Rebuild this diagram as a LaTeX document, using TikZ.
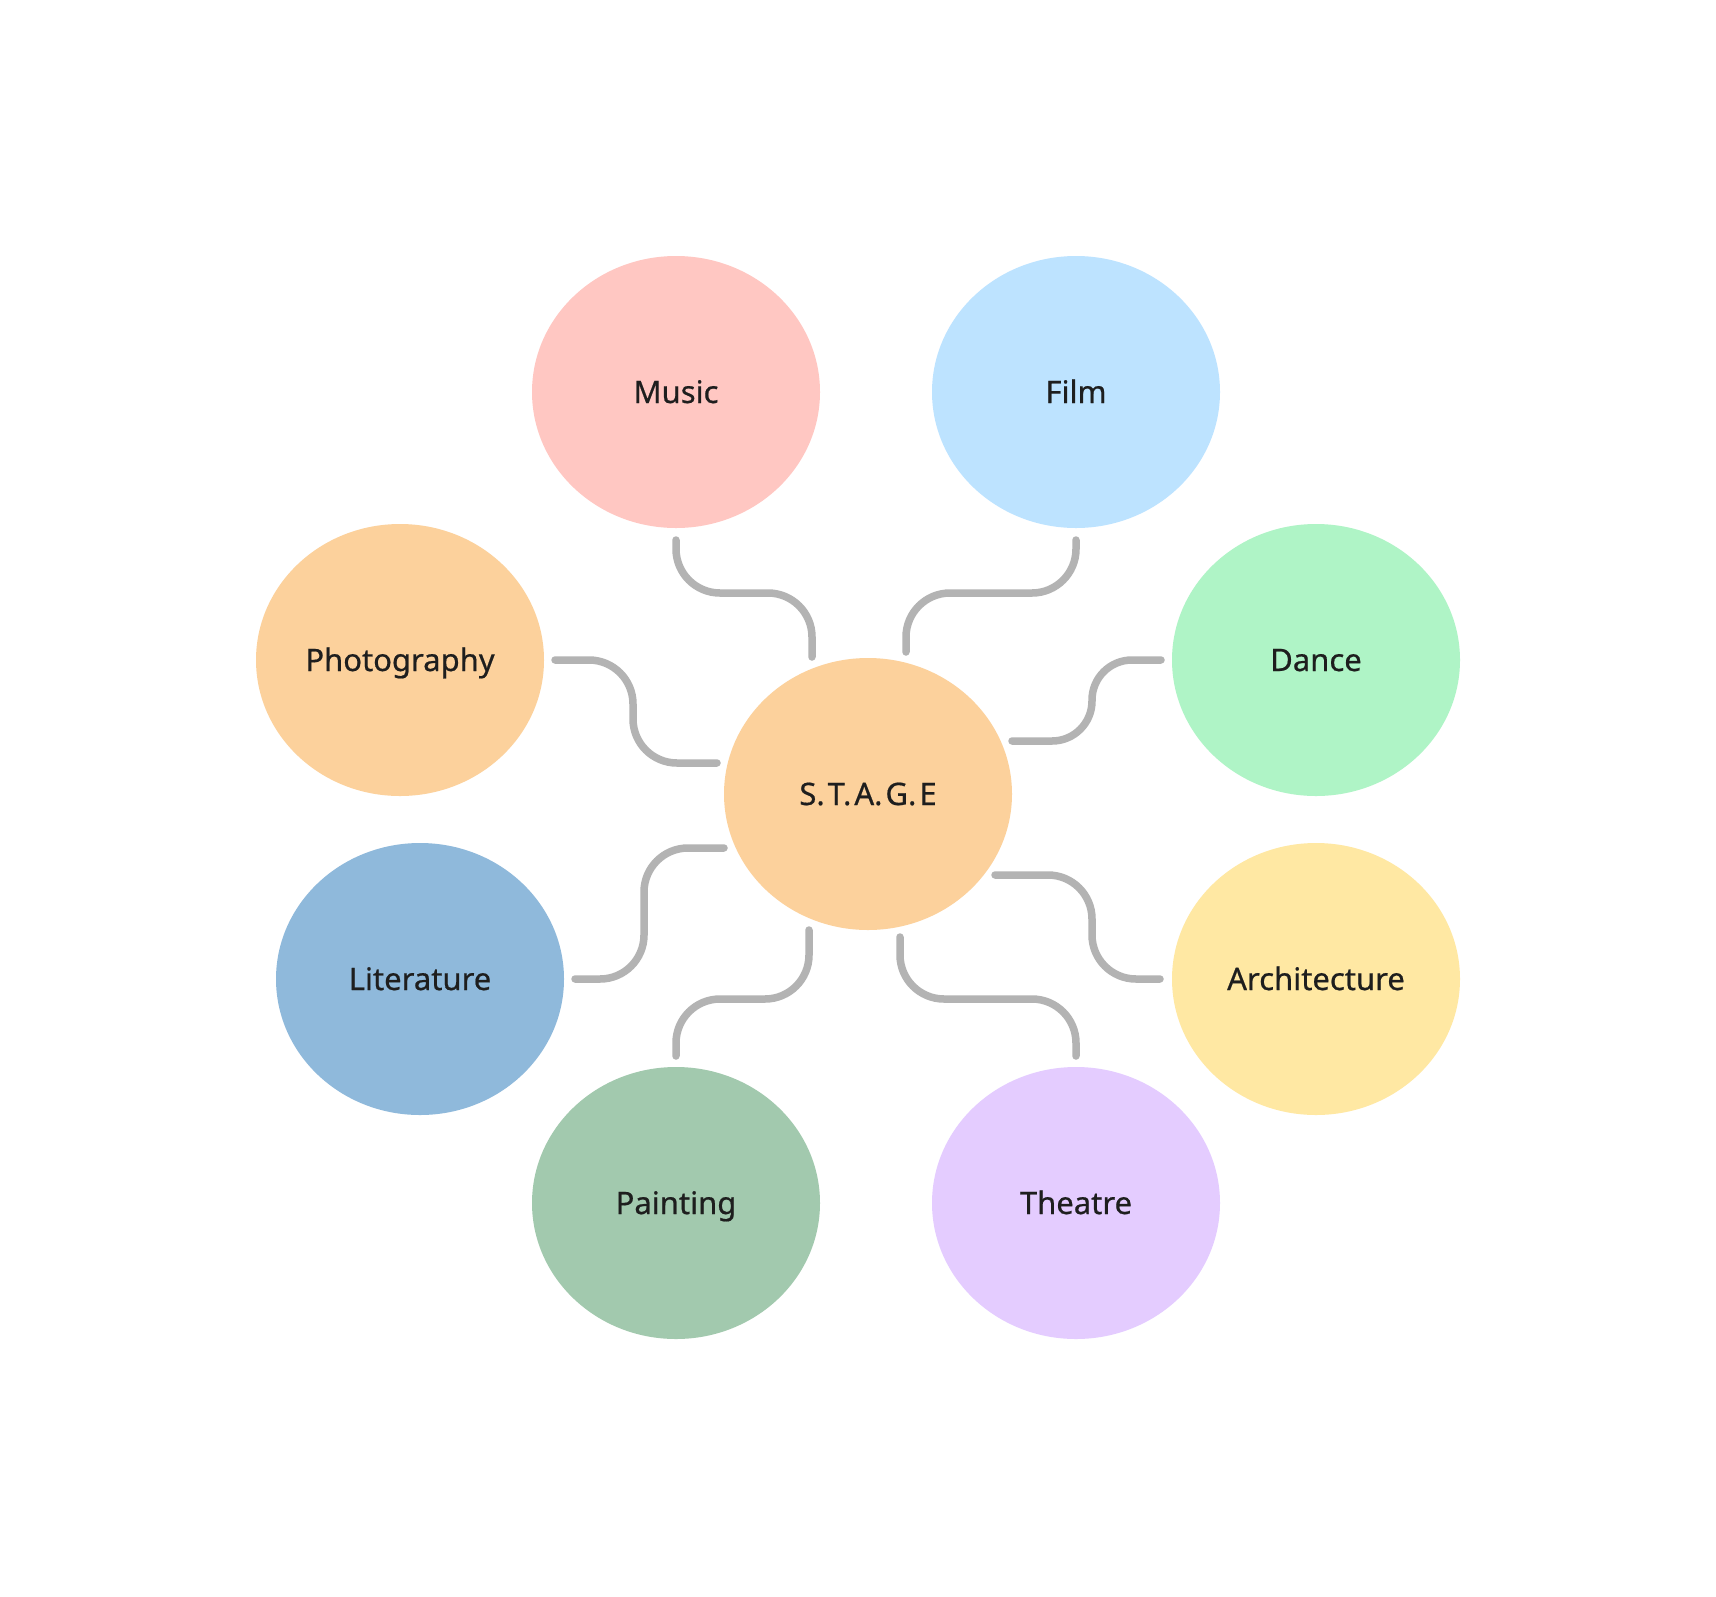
\documentclass[tikz,border=0pt]{standalone}
\usepackage{fontspec}
\setmainfont{Noto Sans}
\newfontfamily\labelfont{Noto Sans}[FakeBold=0.6]
\usetikzlibrary{shapes.geometric,calc}
\definecolor{cPeach}{HTML}{FCD19C}
\definecolor{cPink}{HTML}{FFC7C2}
\definecolor{cBlue}{HTML}{BDE3FF}
\definecolor{cGreen}{HTML}{AFF4C6}
\definecolor{cYellow}{HTML}{FFE8A3}
\definecolor{cPurple}{HTML}{E4CCFF}
\definecolor{cSage}{HTML}{A2C9AE}
\definecolor{cSteel}{HTML}{8FB9DB}
\definecolor{linkgray}{HTML}{B3B3B3}
\definecolor{txt}{HTML}{1E1E1E}
\begin{document}
\begin{tikzpicture}[x=1pt,y=-1pt,
  bubble/.style={ellipse, minimum width=288pt, minimum height=272pt, inner sep=0pt,
    text height=22pt, text depth=0pt,
    text=txt, font=\labelfont\fontsize{31}{37}\selectfont},
  link/.style={draw=linkgray, line width=7.5pt, line cap=round, rounded corners=44pt}]
\useasboundingbox[fill=white] (0,0) rectangle (1716,1596);
\node[bubble, fill=cPeach]  (stage)   at (868,794)   {S.\kern3pt T.\kern3pt A.\kern3pt G.\kern3pt E};
\node[bubble, fill=cPink]   (music)   at (676,392)   {Music};
\node[bubble, fill=cBlue]   (film)    at (1076,392)  {Film};
\node[bubble, fill=cPeach]  (photo)   at (400,660)   {Photography};
\node[bubble, fill=cGreen]  (dance)   at (1316,660)  {Dance};
\node[bubble, fill=cSteel]  (lit)     at (420,979)   {Literature};
\node[bubble, fill=cYellow] (arch)    at (1316,979)  {Architecture};
\node[bubble, fill=cSage]   (paint)   at (676,1203)  {Painting};
\node[bubble, fill=cPurple] (theatre) at (1076,1203) {Theatre};
% connector ends
\coordinate (musA) at ($(music)+(0,148)$);
\coordinate (musB) at ($(stage)+(-56,-137)$);
\coordinate (filA) at ($(film)+(0,148)$);
\coordinate (filB) at ($(stage)+(38,-142)$);
\coordinate (phoA) at ($(photo)+(155,0)$);
\coordinate (phoB) at ($(stage)+(-151,-31)$);
\coordinate (danA) at ($(dance)+(-155,0)$);
\coordinate (danB) at ($(stage)+(144,-53)$);
\coordinate (litA) at ($(stage)+(-144,54)$);
\coordinate (litB) at ($(lit)+(155,0)$);
\coordinate (arcA) at ($(stage)+(127,81)$);
\coordinate (arcB) at ($(arch)+(-156,0)$);
\coordinate (paiA) at ($(stage)+(-59,136)$);
\coordinate (paiB) at ($(paint)+(0,-147)$);
\coordinate (theA) at ($(stage)+(32,143)$);
\coordinate (theB) at ($(theatre)+(0,-147)$);
\draw[link] (musA) -- ++(0,53) -| (musB);
\draw[link] (filA) -- ++(0,53) -| (filB);
\draw[link] (phoA) -- ++(78,0) |- (phoB);
\draw[link, rounded corners=40pt] (danA) -- ++(-69,0) |- (danB);
\draw[link] (litA) -- ++(-80,0) |- (litB);
\draw[link] (arcA) -- ++(97,0) |- (arcB);
\draw[link] (paiA) -- ++(0,69) -| (paiB);
\draw[link] (theA) -- ++(0,62) -| (theB);
\end{tikzpicture}
\end{document}
